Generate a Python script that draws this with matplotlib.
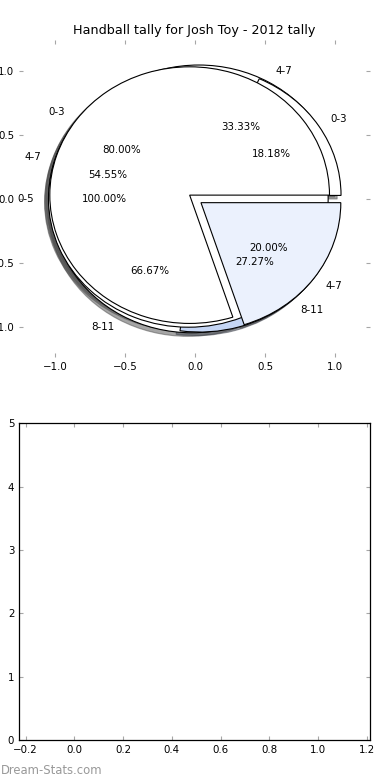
import matplotlib
matplotlib.use("Agg")
import matplotlib.pyplot as plt
import numpy as np

# pies stacked on the same axes, drawn in this order
pie_c_labels = ['4-7', '8-11']
pie_c_values = [1, 2]
pie_d_labels = ['0-3', '4-7', '8-11']
pie_d_values = [2, 6, 3]
pie_a_labels = ['0-5']
pie_a_values = [1]
pie_b_labels = ['0-3', '4-7']
pie_b_values = [4, 1]

pie_ticks = [-1.0, -0.5, 0.0, 0.5, 1.0]
bar_xticks = [-0.2, 0.0, 0.2, 0.4, 0.6, 0.8, 1.0, 1.2]
bar_yticks = [0, 1, 2, 3, 4, 5]

title = "Handball tally for Josh Toy - 2012 tally"

plt.rcParams['font.size'] = 7.4

fig = plt.figure(figsize=(3.9, 7.8), dpi=100)
fig.subplots_adjust(left=0.049, right=0.949, top=0.949, bottom=0.051, hspace=0.21)

ax = fig.add_subplot(211)
wp = {'edgecolor': 'black', 'linewidth': 0.8}
ax.pie(pie_c_values, labels=pie_c_labels, autopct='%1.2f%%', shadow=True,
       explode=[0.05] * 2, colors=['white', 'white'], wedgeprops=wp)
ax.pie(pie_d_values, labels=pie_d_labels, autopct='%1.2f%%', shadow=True,
       explode=[0.05] * 3, colors=['white', 'white', '#c5d6f5'], wedgeprops=wp)
ax.pie(pie_a_values, labels=pie_a_labels, autopct='%1.2f%%', shadow=True,
       explode=[0.05], colors=['white'], wedgeprops=wp)
ax.pie(pie_b_values, labels=pie_b_labels, autopct='%1.2f%%', shadow=True,
       explode=[0.05] * 2, colors=['white', '#ebf1fd'], wedgeprops=wp)
ax.set_aspect('auto')
ax.set_frame_on(False)
ax.set_xlim(-1.26, 1.25)
ax.set_ylim(-1.23, 1.24)
ax.set_xticks(pie_ticks)
ax.set_yticks(pie_ticks)
ax.tick_params(top=True, right=True, direction='in', length=3, color='0.65')
ax.set_title(title, fontsize=9.2, pad=4)

ax2 = fig.add_subplot(212)
ax2.set_xlim(-0.227, 1.214)
ax2.set_ylim(0, 5)
ax2.set_xticks(bar_xticks)
ax2.set_yticks(bar_yticks)
ax2.tick_params(top=True, right=True, direction='in', length=3, color='0.65')
for s in ax2.spines.values():
    s.set_linewidth(0.9)

fig.text(0.003, 1 - 770 / 780, "Dream-Stats.com", color='#999999', fontsize=8.4,
         va='center', ha='left')

fig.savefig('out.png', dpi=100)
